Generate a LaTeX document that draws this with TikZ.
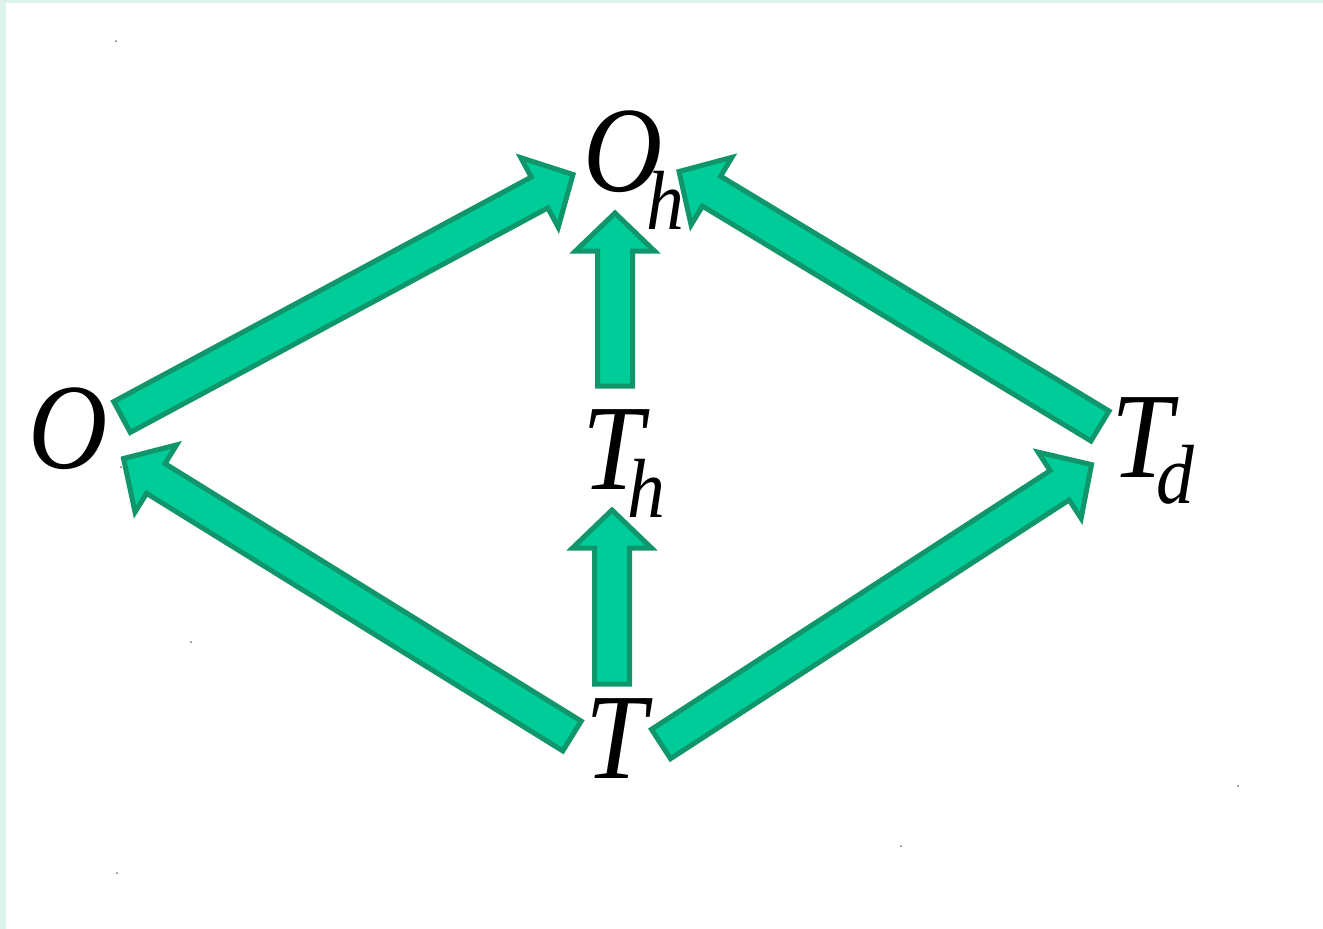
\documentclass[tikz,border=0pt]{standalone}
\usepackage{fontspec}
\setmainfont{Liberation Serif}[FakeStretch=0.9]
\usetikzlibrary{calc}

\definecolor{arrowfill}{RGB}{0,204,153}
\definecolor{arrowline}{RGB}{17,150,108}
\definecolor{framemint}{RGB}{222,242,236}

\newcommand{\sublabel}[3]{#1\kern-16pt\raisebox{-#3}{\fontsize{84}{84}\selectfont #2}}

\begin{document}
\begin{tikzpicture}[
    x=1pt, y=-1pt,
    letter/.style={
        inner sep=0pt,
        anchor=base west,
        font=\fontsize{122}{122}\selectfont\itshape
    },
    blockarrow/.style={
        draw=arrowline,
        fill=arrowfill,
        line width=5pt,
        line join=miter,
        to path={
            -- ($(\tikztostart)!17.5pt!90:(\tikztotarget)$)
            -- ($(\tikztotarget)!38pt!(\tikztostart)!17.5pt!-90:(\tikztostart)$)
            -- ($(\tikztotarget)!38pt!(\tikztostart)!39.5pt!-90:(\tikztostart)$)
            -- (\tikztotarget)
            -- ($(\tikztotarget)!38pt!(\tikztostart)!39.5pt!90:(\tikztostart)$)
            -- ($(\tikztotarget)!38pt!(\tikztostart)!17.5pt!90:(\tikztostart)$)
            -- ($(\tikztostart)!17.5pt!-90:(\tikztotarget)$)
            -- cycle
        }
    },
    speck/.style={circle, fill=black!55, inner sep=0pt, minimum size=2pt}
]

% frame
\fill[framemint] (0,0) rectangle (1323,929);
\fill[white] (6,3) rectangle (1323,929);
\useasboundingbox (0,0) rectangle (1323,929);

% specks
\node[speck] (s1) at (116,41) {};
\node[speck] (s2) at (117,873) {};
\node[speck] (s3) at (191,642) {};
\node[speck] (s4) at (901,846) {};
\node[speck] (s5) at (1238,786) {};
\node[speck] (s6) at (121,467) {};

% labels
\node[letter] (o) at (28,468) {O};
\node[letter] (oh) at (583,191) {\sublabel{O}{h}{38pt}};
\node[letter] (th) at (582,489) {\sublabel{T}{h}{28pt}};
\node[letter] (td) at (1111,477) {\sublabel{T}{d}{26pt}};
\node[letter] (t) at (585,778) {T};

% arrow ends
\coordinate (o-out) at (122,417);
\coordinate (oh-left) at (573,174.5);
\coordinate (td-out) at (1100,426);
\coordinate (oh-right) at (679,171.5);
\coordinate (th-out) at (615,386);
\coordinate (oh-below) at (615,213);
\coordinate (t-up) at (612,684);
\coordinate (th-in) at (612,510);
\coordinate (t-left) at (572,736);
\coordinate (o-in) at (123.5,458.5);
\coordinate (t-right) at (661,744);
\coordinate (td-in) at (1091.5,464.6);

% arrows
\draw[blockarrow] (o-out) to (oh-left);
\draw[blockarrow] (td-out) to (oh-right);
\draw[blockarrow] (th-out) to (oh-below);
\draw[blockarrow] (t-up) to (th-in);
\draw[blockarrow] (t-left) to (o-in);
\draw[blockarrow] (t-right) to (td-in);

\end{tikzpicture}
\end{document}
